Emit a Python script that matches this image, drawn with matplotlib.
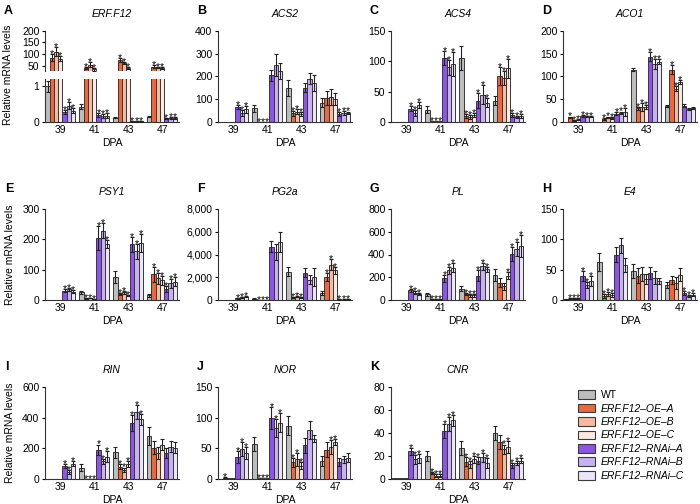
import matplotlib
matplotlib.use('Agg')
import matplotlib.pyplot as plt
from matplotlib.patches import Patch
from matplotlib.ticker import FuncFormatter

plt.rcParams['font.family'] = ['Liberation Sans', 'DejaVu Sans']
plt.rcParams['font.size'] = 7.5

# Datos: 4 grupos (DPA) x 7 líneas
dpa = ['39', '41', '43', '47']
lines = ['WT', 'ERF.F12–OE–A', 'ERF.F12–OE–B', 'ERF.F12–OE–C',
         'ERF.F12–RNAi–A', 'ERF.F12–RNAi–B', 'ERF.F12–RNAi–C']
colors = ['#bdbdbd', '#e8693f', '#f6b9a2', '#fde9df', '#8c55e3', '#c8b1f0', '#ece5f8']

erf_mean = [[1.0, 85, 110, 80, 0.28, 0.45, 0.32],
            [0.43, 42, 55, 35, 0.19, 0.17, 0.18],
            [0.12, 75, 62, 42, 0.02, 0.02, 0.02],
            [0.15, 47, 42, 40, 0.1, 0.1, 0.1]]
erf_err = [[0.15, 15, 20, 10, 0.05, 0.1, 0.08],
           [0.08, 5, 10, 5, 0.06, 0.06, 0.07],
           [0.01, 8, 5, 5, 0.01, 0.01, 0.01],
           [0.02, 5, 3, 3, 0.02, 0.03, 0.03]]
erf_sig = ['0111111', '0111111', '0111111', '0111111']

acs2_mean = [[0, 0.5, 0.5, 0.5, 65, 40, 55],
             [60, 1, 1, 1, 205, 250, 225],
             [150, 38, 45, 35, 150, 190, 170],
             [85, 105, 110, 100, 35, 40, 40]]
acs2_err = [[0, 0, 0, 0, 8, 12, 15],
            [15, 0, 0, 0, 25, 50, 35],
            [35, 10, 10, 8, 20, 25, 35],
            [20, 30, 35, 25, 8, 8, 6]]
acs2_sig = ['0000111', '0111000', '0111000', '0000111']

acs4_mean = [[0.5, 0.5, 0.5, 0.5, 22, 15, 28],
             [20, 1, 1, 1, 105, 90, 95],
             [105, 10, 8, 12, 35, 45, 32],
             [35, 75, 72, 88, 12, 8, 10]]
acs4_err = [[0, 0, 0, 0, 4, 5, 5],
            [6, 0, 0, 0, 12, 12, 20],
            [20, 3, 3, 3, 12, 15, 8],
            [7, 15, 12, 15, 3, 2, 3]]
acs4_sig = ['0000111', '0111111', '0111111', '0111111']

aco1_mean = [[0, 10, 4, 5, 13, 12, 12],
             [1, 7, 10, 8, 18, 20, 22],
             [115, 30, 33, 33, 143, 127, 132],
             [35, 115, 73, 88, 36, 28, 31]]
aco1_err = [[0, 2, 1, 1, 2, 2, 2],
            [0, 2, 2, 2, 3, 3, 8],
            [4, 3, 8, 5, 10, 10, 5],
            [3, 10, 5, 5, 3, 2, 2]]
aco1_sig = ['0111111', '0111111', '0111111', '0111000']

psy1_mean = [[0, 0.5, 0.5, 0.5, 30, 35, 27],
             [25, 5, 6, 3, 205, 228, 185],
             [75, 20, 25, 15, 183, 160, 187],
             [15, 85, 72, 65, 35, 55, 60]]
psy1_err = [[0, 0, 0, 0, 5, 5, 5],
            [6, 1, 1, 1, 40, 25, 12],
            [20, 4, 4, 3, 25, 25, 30],
            [4, 25, 18, 15, 10, 15, 15]]
psy1_sig = ['0000111', '0111111', '0111111', '0111111']

pg2a_mean = [[0, 5, 5, 5, 150, 250, 280],
             [100, 10, 10, 10, 4700, 4200, 5100],
             [2500, 250, 270, 220, 2400, 1800, 2000],
             [600, 2050, 3100, 2600, 50, 40, 50]]
pg2a_err = [[0, 0, 0, 0, 40, 50, 50],
            [50, 0, 0, 0, 500, 700, 900],
            [400, 50, 50, 50, 400, 400, 800],
            [150, 350, 500, 300, 20, 20, 20]]
pg2a_sig = ['0000111', '0111000', '0111000', '0111111']

pl_mean = [[0, 1, 1, 1, 85, 65, 55],
           [50, 5, 5, 5, 190, 260, 285],
           [100, 50, 40, 40, 215, 295, 270],
           [220, 150, 120, 215, 405, 450, 475]]
pl_err = [[0, 0, 0, 0, 15, 10, 10],
          [15, 2, 2, 2, 30, 30, 40],
          [20, 10, 10, 10, 50, 30, 20],
          [50, 40, 30, 30, 60, 60, 100]]
pl_sig = ['0000111', '0111111', '0111111', '0001111']

e4_mean = [[1, 2, 3, 3, 40, 25, 31],
           [62, 7, 10, 8, 75, 90, 58],
           [48, 40, 43, 35, 45, 37, 32],
           [25, 33, 28, 42, 12, 7, 9]]
e4_err = [[0.5, 1, 1, 1, 8, 5, 8],
          [15, 3, 3, 3, 12, 12, 12],
          [12, 12, 12, 8, 10, 10, 5],
          [5, 7, 10, 10, 3, 2, 2]]
e4_sig = ['0111111', '0111000', '0000000', '0000111']

rin_mean = [[0, 1, 1, 1, 85, 45, 100],
            [75, 3, 3, 3, 190, 115, 145],
            [175, 80, 60, 100, 365, 435, 390],
            [280, 205, 170, 225, 170, 210, 205]]
rin_err = [[0, 0, 0, 0, 15, 15, 15],
           [20, 0, 0, 0, 35, 15, 35],
           [35, 15, 15, 20, 55, 45, 35],
           [60, 45, 40, 35, 30, 35, 35]]
rin_sig = ['0000111', '0111111', '0111111', '0000000']

nor_mean = [[0.5, 2, 1, 1, 36, 49, 42],
            [57, 1, 1, 1, 99, 83, 92],
            [87, 27, 32, 22, 55, 80, 66],
            [30, 48, 52, 60, 28, 32, 35]]
nor_err = [[0, 1, 0, 0, 10, 12, 10],
           [12, 0, 0, 0, 18, 15, 15],
           [15, 7, 10, 5, 12, 15, 5],
           [8, 12, 12, 5, 6, 6, 8]]
nor_sig = ['0100111', '0111111', '0111000', '0011000']

cnr_mean = [[0.5, 0.5, 0.5, 0.5, 24, 17, 18],
            [20, 5, 3, 3, 42, 48, 51],
            [27, 15, 13, 17, 16, 19, 14],
            [40, 32, 26, 28, 12, 14, 16]]
cnr_err = [[0, 0, 0, 0, 3, 4, 4],
           [4, 1, 1, 1, 6, 6, 5],
           [6, 4, 3, 3, 3, 4, 4],
           [6, 6, 4, 5, 2, 2, 2]]
cnr_sig = ['0000111', '0111111', '0111111', '0011111']

W = 700.0
H = 504.0
fig = plt.figure(figsize=(7.0, 5.04), dpi=100)

col_left = [45, 218, 391, 563]
col_width = 134
row_span = [(30.7, 122), (209, 300), (387, 479)]
bw = 0.125


def axes_px(x0, y_top, width, y_bot):
    return fig.add_axes([x0 / W, 1 - y_bot / H, width / W, (y_bot - y_top) / H])


def style(ax, bottom=True):
    for s in ['top', 'right']:
        ax.spines[s].set_visible(False)
    ax.spines['bottom'].set_visible(bottom)
    for s in ['left', 'bottom']:
        ax.spines[s].set_linewidth(0.8)
        ax.spines[s].set_color('#333333')
    ax.tick_params(axis='y', length=2.5, width=0.8, pad=1.5, labelsize=7.5)
    ax.tick_params(axis='x', length=0, pad=2.5, labelsize=7.5)
    ax.set_xlim(-0.45, 3.5)


def draw_bars(ax, mean, err, sig):
    lo, hi = ax.get_ylim()
    for g in range(4):
        for k in range(7):
            x = g + (k - 3) * bw
            m = mean[g][k]
            e = err[g][k]
            ax.bar(x, m, bw, color=colors[k], edgecolor='#383838', linewidth=0.7, zorder=2)
            if e > 0:
                ax.errorbar(x, m, yerr=e, fmt='none', ecolor='#222222', elinewidth=0.8,
                            capsize=1.3, capthick=0.8, zorder=3)
            top = m + e
            if sig[g][k] == '1' and lo <= top <= hi:
                ax.annotate('*', (x, top), xytext=(0, -2.2), textcoords='offset points',
                            ha='center', va='baseline', fontsize=7.5, zorder=4)


def panel(col, row, mean, err, sig, ymax, step, gene, letter, comma=False):
    y_top, y_bot = row_span[row]
    ax = axes_px(col_left[col], y_top, col_width, y_bot)
    ax.set_ylim(0, ymax)
    ax.set_yticks(range(0, ymax + 1, step))
    if comma:
        ax.yaxis.set_major_formatter(FuncFormatter(lambda v, p: f'{int(v):,}'))
    draw_bars(ax, mean, err, sig)
    style(ax)
    ax.spines['left'].set_bounds(0, ymax)
    ax.set_xticks(range(4))
    ax.set_xticklabels(dpa)
    ax.set_xlabel('DPA', labelpad=2, fontsize=7.5)
    ax.set_title(gene, style='italic', fontsize=7.5, pad=10)
    fig.text((col_left[col] - 40) / W if col == 0 else (col_left[col] - 21) / W,
             1 - (y_top - 20) / H, letter, fontsize=9, fontweight='bold', va='center')
    if col == 0:
        ax.set_ylabel('Relative mRNA levels', fontsize=7.5, labelpad=5)
    return ax


# Panel A con eje partido
ax_up = axes_px(45, 30.7, col_width, 71)
ax_lo = axes_px(45, 79, col_width, 122)
ax_up.set_ylim(28, 200)
ax_up.set_yticks([50, 100, 150, 200])
ax_lo.set_ylim(0, 1.2)
ax_lo.set_yticks([0, 1])
draw_bars(ax_up, erf_mean, erf_err, erf_sig)
draw_bars(ax_lo, erf_mean, erf_err, erf_sig)
style(ax_up, bottom=False)
style(ax_lo)
ax_up.set_xticks([])
ax_lo.set_xticks(range(4))
ax_lo.set_xticklabels(dpa)
ax_lo.set_xlabel('DPA', labelpad=2, fontsize=7.5)
ax_up.set_title('ERF.F12', style='italic', fontsize=7.5, pad=10)
ax_lo.set_ylabel('Relative mRNA levels', fontsize=7.5)
ax_lo.yaxis.set_label_coords(-0.24, 1.1)
fig.text(4 / W, 1 - 11 / H, 'A', fontsize=9, fontweight='bold', va='center')

panel(1, 0, acs2_mean, acs2_err, acs2_sig, 400, 100, 'ACS2', 'B')
panel(2, 0, acs4_mean, acs4_err, acs4_sig, 150, 50, 'ACS4', 'C')
panel(3, 0, aco1_mean, aco1_err, aco1_sig, 200, 50, 'ACO1', 'D')
panel(0, 1, psy1_mean, psy1_err, psy1_sig, 300, 100, 'PSY1', 'E')
panel(1, 1, pg2a_mean, pg2a_err, pg2a_sig, 8000, 2000, 'PG2a', 'F', comma=True)
panel(2, 1, pl_mean, pl_err, pl_sig, 800, 200, 'PL', 'G')
panel(3, 1, e4_mean, e4_err, e4_sig, 150, 50, 'E4', 'H')
panel(0, 2, rin_mean, rin_err, rin_sig, 600, 200, 'RIN', 'I')
panel(1, 2, nor_mean, nor_err, nor_sig, 150, 50, 'NOR', 'J')
panel(2, 2, cnr_mean, cnr_err, cnr_sig, 80, 20, 'CNR', 'K')

handles = [Patch(facecolor=c, edgecolor='#3a3a3a', linewidth=0.8) for c in colors]
leg = fig.legend(handles, lines, loc='upper left', bbox_to_anchor=(574 / W, 1 - 386 / H),
                 frameon=False, fontsize=7.5, handlelength=1.6, handleheight=0.9,
                 labelspacing=0.33, handletextpad=0.55, borderaxespad=0)
for i, t in enumerate(leg.get_texts()):
    if i > 0:
        t.set_style('italic')

fig.savefig('out.png', dpi=100)
